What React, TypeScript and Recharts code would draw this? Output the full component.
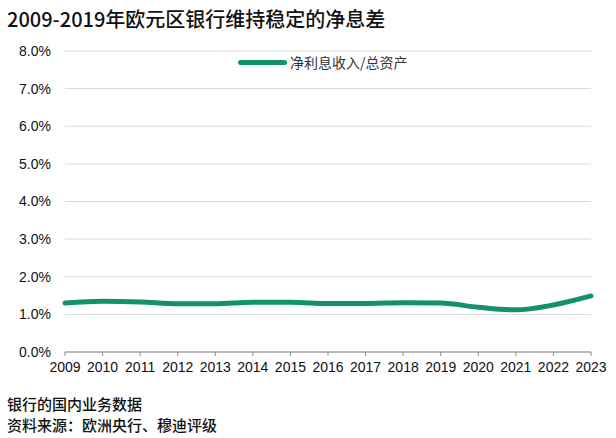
import { LineChart, Line, XAxis, YAxis, CartesianGrid, Legend } from "recharts";

const years = [
  "2009", "2010", "2011", "2012", "2013", "2014", "2015", "2016",
  "2017", "2018", "2019", "2020", "2021", "2022", "2023",
];
const nimValues = [
  1.3, 1.35, 1.33, 1.28, 1.28, 1.32, 1.32, 1.29, 1.29, 1.31, 1.3, 1.19, 1.12, 1.25, 1.49,
];
const yTicks = [0, 1, 2, 3, 4, 5, 6, 7, 8];
const seriesName = "净利息收入/总资产";

const data = years.map((y, i) => ({ year: y, nim: nimValues[i] }));

const GREEN = "#12916F";
const cjk = '"Noto Sans CJK SC", "Noto Sans", sans-serif';
const latin = '"Liberation Sans", Arial, sans-serif';

function LegendLine() {
  return (
    <div style={{ display: "flex", alignItems: "center", fontFamily: cjk, fontSize: 14, color: "#333" }}>
      <span
        style={{
          display: "inline-block",
          width: 49,
          height: 5,
          borderRadius: 3,
          background: GREEN,
          marginRight: 3,
        }}
      />
      <span>{seriesName}</span>
    </div>
  );
}

export default function App() {
  return (
    <div
      style={{
        position: "absolute",
        left: 0,
        top: 0,
        width: 616,
        height: 438,
        background: "#fff",
        overflow: "hidden",
      }}
    >
      <div
        style={{
          position: "absolute",
          left: 7,
          top: 4,
          fontFamily: cjk,
          fontSize: 20,
          fontWeight: 500,
          color: "#111",
          whiteSpace: "nowrap",
        }}
      >
        2009-2019年欧元区银行维持稳定的净息差
      </div>

      <LineChart
        width={616}
        height={438}
        data={data}
        margin={{ top: 51, right: 25, left: 0, bottom: 56 }}
      >
        <CartesianGrid vertical={false} stroke="#d9d9d9" strokeWidth={1} />
        <XAxis
          dataKey="year"
          axisLine={{ stroke: "#8c8c8c" }}
          tickLine={{ stroke: "#8c8c8c" }}
          tickSize={4}
          tickMargin={6}
          interval={0}
          tick={{ fontSize: 14, fill: "#111", fontFamily: latin }}
        />
        <YAxis
          width={65}
          domain={[0, 8]}
          ticks={yTicks}
          axisLine={false}
          tickLine={false}
          tickMargin={8}
          tickFormatter={(v: number) => `${v.toFixed(1)}%`}
          tick={{ fontSize: 14, fill: "#111", fontFamily: latin }}
        />
        <Legend
          layout="horizontal"
          verticalAlign="middle"
          align="center"
          wrapperStyle={{ top: 52, left: 238, width: "auto" }}
          content={() => <LegendLine />}
        />
        <Line
          type="monotone"
          dataKey="nim"
          name={seriesName}
          stroke={GREEN}
          strokeWidth={5}
          dot={false}
          activeDot={false}
          strokeLinecap="round"
          isAnimationActive={false}
        />
      </LineChart>

      <div
        style={{
          position: "absolute",
          left: 7,
          top: 393,
          fontFamily: cjk,
          fontSize: 15,
          fontWeight: 500,
          color: "#111",
          lineHeight: "21px",
        }}
      >
        <div>银行的国内业务数据</div>
        <div>资料来源：欧洲央行、穆迪评级</div>
      </div>
    </div>
  );
}
